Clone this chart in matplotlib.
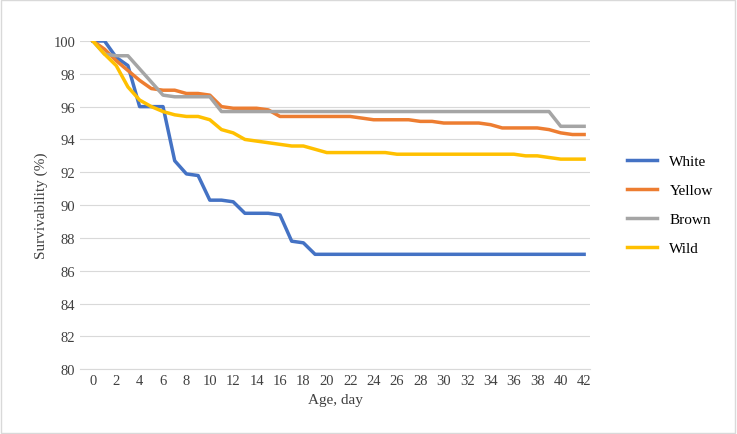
import matplotlib
matplotlib.use("Agg")
import matplotlib.pyplot as plt
from matplotlib.patches import Rectangle

days = list(range(43))
white = [100,100,99,98.5,96,96,96,92.7,91.9,91.8,90.3,90.3,90.2,89.5,89.5,89.5,89.4,87.8,87.7,87.0] + [87.0]*23
yellow = [100,99.5,98.8,98.2,97.6,97.1,97,97,96.8,96.8,96.7,96,95.9,95.9,95.9,95.8,95.4,95.4,95.4,95.4,95.4,95.4,95.4,95.3,95.2,95.2,95.2,95.2,95.1,95.1,95,95,95,95,94.9,94.7,94.7,94.7,94.7,94.6,94.4,94.3,94.3]
brown = [100,99.2,99.1,99.1,98.3,97.5,96.7,96.6,96.6,96.6,96.6] + [95.7]*29 + [94.8,94.8,94.8]
wild = [100,99.2,98.5,97.2,96.4,96,95.7,95.5,95.4,95.4,95.2,94.6,94.4,94.0,93.9,93.8,93.7,93.6,93.6,93.4,93.2,93.2,93.2,93.2,93.2,93.2,93.1,93.1,93.1,93.1,93.1,93.1,93.1,93.1,93.1,93.1,93.1,93,93,92.9,92.8,92.8,92.8]
series = [("White", white, "#4472C4"), ("Yellow", yellow, "#ED7D31"),
          ("Brown", brown, "#A5A5A5"), ("Wild", wild, "#FFC000")]

plt.rcParams["font.family"] = "Liberation Serif"
fig = plt.figure(figsize=(7.37, 4.35), dpi=100)
fig.patches.append(Rectangle((0.002, 0.003), 0.995, 0.994, transform=fig.transFigure,
                             fill=False, edgecolor="#D9D9D9", lw=1))
ax = fig.add_axes([0.1085, 0.149, 0.692, 0.7545])
for name, vals, c in series:
    ax.plot(days, vals, color=c, lw=2.5, label=name, solid_joinstyle="round")
ax.set_xlim(-1.1, 42.5)
ax.set_ylim(80, 100)
ax.set_xticks(range(0, 43, 2))
ax.set_yticks(range(80, 101, 2))
ax.grid(axis="y", color="#D9D9D9", lw=0.8)
for s in ["top", "right", "left"]:
    ax.spines[s].set_visible(False)
ax.spines["bottom"].set_color("#D9D9D9")
ax.tick_params(length=0, labelsize=10.5, colors="#404040")
ax.set_xlabel("Age, day", fontsize=11, color="#404040")
ax.set_ylabel("Survivability (%)", fontsize=11, color="#404040")
ax.legend(loc="center left", bbox_to_anchor=(1.045, 0.5), frameon=False, fontsize=11, labelspacing=1.0)
fig.savefig("out.png")
